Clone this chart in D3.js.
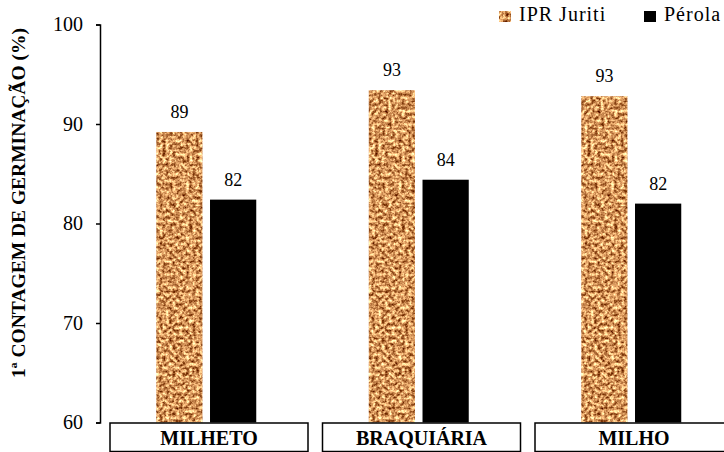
<!DOCTYPE html>
<html>
<head>
<meta charset="utf-8">
<script src="https://cdn.jsdelivr.net/npm/d3@7"></script>
<style>
  html, body { margin: 0; padding: 0; background: #fff; }
  svg { display: block; }
  text { font-family: 'Liberation Serif'; fill: #000; }
</style>
</head>
<body>
<svg id="chart" width="724" height="452"></svg>
<script>
// Germination first count (%) by cover crop and bean cultivar
const categories = ["MILHETO", "BRAQUIÁRIA", "MILHO"];
const seriesNames = ["IPR Juriti", "Pérola"];
const iprJuriti = [89.2, 93.4, 92.8];
const perola = [82.4, 84.4, 82.0];
const yTicks = [60, 70, 80, 90, 100];
const yTitle = "1ª CONTAGEM DE GERMINAÇÃO (%)";

const seriesValues = [iprJuriti, perola];
const rows = categories.map((c, i) => ({
  category: c,
  values: seriesNames.map((s, j) => ({ series: s, value: seriesValues[j][i] }))
}));

const svg = d3.select("#chart");
const serif = "'Liberation Serif'";

// Cork-like texture used for the IPR Juriti bars and legend swatch
const defs = svg.append("defs");
const cork = defs.append("filter")
  .attr("id", "cork")
  .attr("x", 0).attr("y", 0).attr("width", 1).attr("height", 1)
  .attr("color-interpolation-filters", "sRGB");
cork.append("feTurbulence")
  .attr("type", "fractalNoise")
  .attr("baseFrequency", 0.3)
  .attr("numOctaves", 3)
  .attr("seed", 11)
  .attr("result", "noise");
cork.append("feColorMatrix")
  .attr("in", "noise")
  .attr("type", "matrix")
  .attr("values", [
    1.4, 0, 0, 0, 0.14,
    1.5, 0, 0, 0, -0.16,
    1.3, 0, 0, 0, -0.29,
    0, 0, 0, 0, 1
  ].join(" "))
  .attr("result", "tint");
cork.append("feComposite")
  .attr("in", "tint")
  .attr("in2", "SourceGraphic")
  .attr("operator", "in");

const colors = { "IPR Juriti": "#d39a62", "Pérola": "#000000" };
const filters = { "IPR Juriti": "url(#cork)", "Pérola": null };

const y = d3.scaleLinear().domain([60, 100]).range([422.5, 24.5]);
const x0 = d3.scaleBand().domain(categories).range([100, 737.5]).padding(0);
const x1 = d3.scaleBand().domain(seriesNames).range([-50, 50]).paddingInner(0.14);

// Y axis
const yAxis = svg.append("g")
  .attr("transform", "translate(100,0)")
  .call(d3.axisLeft(y).tickValues(yTicks).tickSize(4).tickSizeOuter(4).tickPadding(13).tickFormat(d3.format("d")));
yAxis.attr("font-family", serif).attr("font-size", 20);
yAxis.select(".domain").attr("stroke", "#000").attr("stroke-width", 1.5);
yAxis.selectAll(".tick line").attr("stroke", "#000").attr("stroke-width", 1.5);
yAxis.selectAll(".tick text")
  .style("font-family", serif)
  .style("font-size", "20px")
  .attr("fill", "#000");

// Y title
svg.append("text")
  .attr("transform", "translate(25,203) rotate(-90)")
  .attr("text-anchor", "middle")
  .style("font-family", serif)
  .style("font-size", "19.5px")
  .style("font-weight", "bold")
  .text(yTitle);

// Bars
const groups = svg.append("g").selectAll("g")
  .data(rows)
  .join("g")
  .attr("transform", d => `translate(${x0(d.category) + x0.bandwidth() / 2},0)`);

groups.selectAll("rect")
  .data(d => d.values)
  .join("rect")
  .attr("x", d => x1(d.series))
  .attr("y", d => y(d.value))
  .attr("width", x1.bandwidth())
  .attr("height", d => y(60) - y(d.value))
  .attr("fill", d => colors[d.series])
  .attr("filter", d => filters[d.series]);

groups.selectAll("text.val")
  .data(d => d.values)
  .join("text")
  .attr("class", "val")
  .attr("x", d => x1(d.series) + x1.bandwidth() / 2)
  .attr("y", d => y(d.value) - 14)
  .attr("text-anchor", "middle")
  .style("font-family", serif)
  .style("font-size", "18px")
  .text(d => d3.format(".0f")(d.value));

// Category boxes under the axis
const boxes = svg.append("g").selectAll("g")
  .data(categories)
  .join("g")
  .attr("transform", d => `translate(${x0(d)},0)`);
boxes.append("rect")
  .attr("x", 10)
  .attr("y", 423)
  .attr("width", 198)
  .attr("height", 28.5)
  .attr("fill", "#fff")
  .attr("stroke", "#000")
  .attr("stroke-width", 1.5);
boxes.append("text")
  .attr("x", 109)
  .attr("y", 445)
  .attr("text-anchor", "middle")
  .style("font-family", serif)
  .style("font-size", "20px")
  .style("font-weight", "bold")
  .text(d => d);

// Legend
const legendPos = [499, 644];
const legend = svg.append("g").selectAll("g")
  .data(seriesNames)
  .join("g")
  .attr("transform", (d, i) => `translate(${legendPos[i]},0)`);
legend.append("rect")
  .attr("x", 0).attr("y", 11)
  .attr("width", 12).attr("height", 11)
  .attr("fill", d => colors[d])
  .attr("filter", d => filters[d]);
legend.append("text")
  .attr("x", 20)
  .attr("y", 20.5)
  .style("font-family", serif)
  .style("font-size", "20px")
  .style("letter-spacing", "1px")
  .text(d => d);
</script>
</body>
</html>
